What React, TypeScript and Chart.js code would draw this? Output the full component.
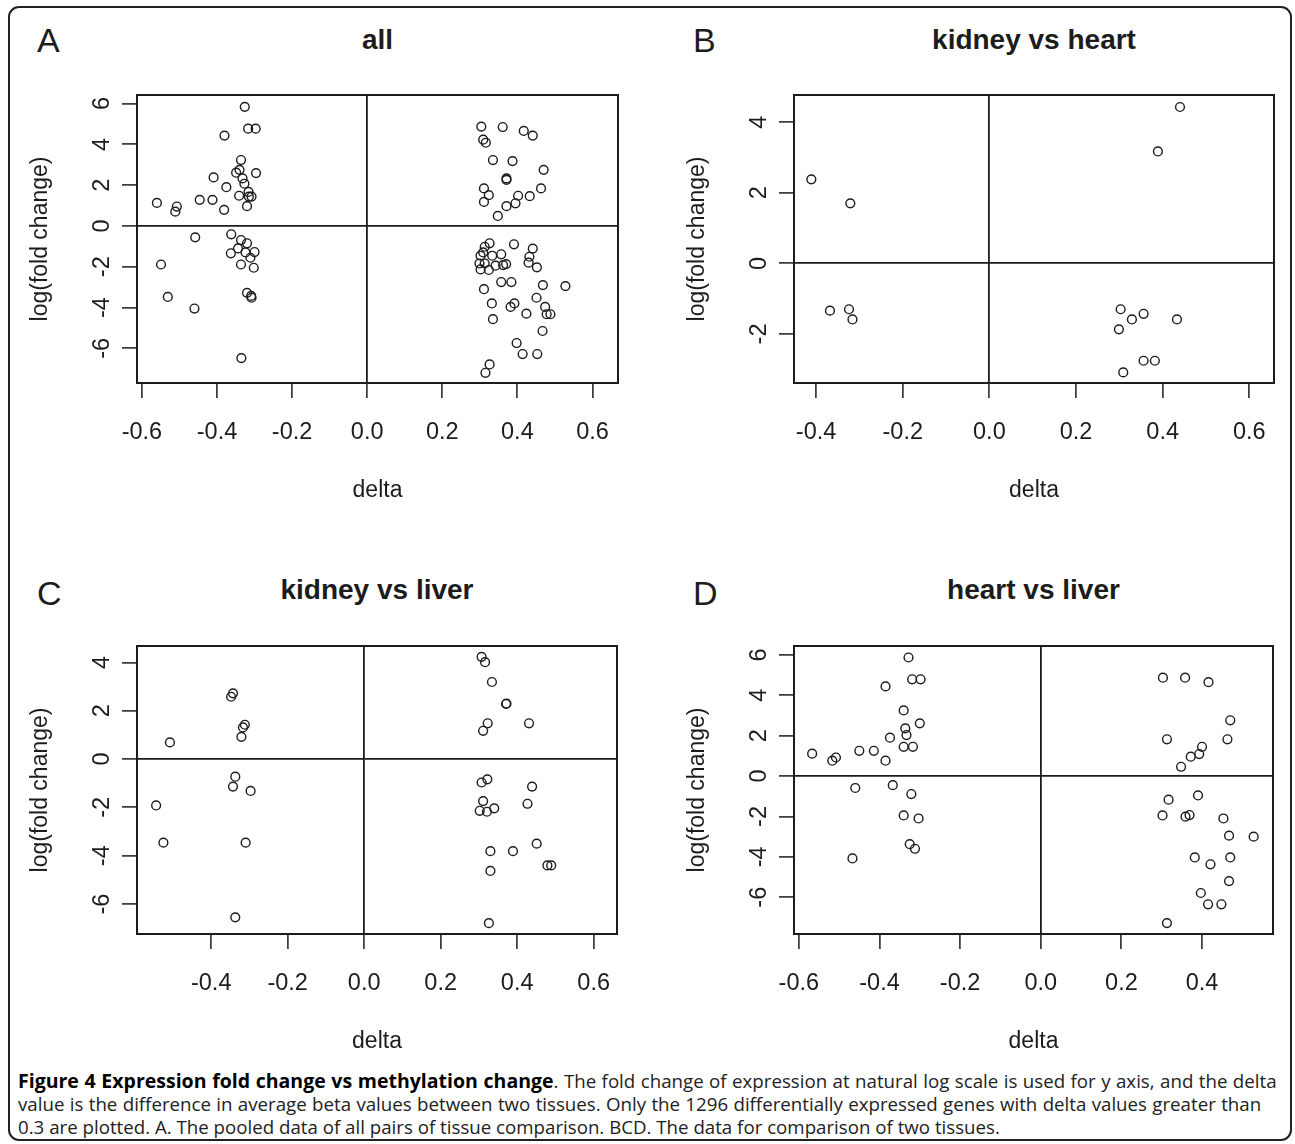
import React, { useEffect, useRef } from "react";
import { Chart, registerables } from "chart.js";

Chart.register(...registerables);

// ---------- DATA ----------
// Panel A: all (pooled)
const A_DELTA = [
  -0.326, -0.317, -0.297, -0.38, -0.336, -0.349, -0.34, -0.296, -0.332, -0.409,
  -0.327, -0.375, -0.316, -0.341, -0.315, -0.308, -0.32, -0.56, -0.507, -0.511,
  -0.446, -0.412, -0.381, -0.458, -0.362, -0.336, -0.32, -0.344, -0.324, -0.3,
  -0.363, -0.311, -0.336, -0.302, -0.549, -0.531, -0.46, -0.32, -0.309, -0.308,
  -0.335,
  0.304, 0.361, 0.417, 0.441, 0.309, 0.316, 0.335, 0.387, 0.47, 0.371,
  0.371, 0.311, 0.324, 0.311, 0.463, 0.402, 0.433, 0.395, 0.371, 0.348,
  0.326, 0.313, 0.391, 0.441, 0.309, 0.302, 0.333, 0.357, 0.432, 0.299,
  0.313, 0.302, 0.324, 0.342, 0.362, 0.37, 0.43, 0.452, 0.357, 0.384,
  0.311, 0.468, 0.528, 0.332, 0.382, 0.392, 0.451, 0.424, 0.474, 0.478,
  0.488, 0.335, 0.467, 0.398, 0.414, 0.453, 0.326, 0.315,
];
const A_LOGFC = [
  5.84, 4.77, 4.77, 4.43, 3.23, 2.61, 2.75, 2.59, 2.33, 2.38,
  2.07, 1.9, 1.67, 1.48, 1.44, 1.44, 0.97, 1.13, 0.95, 0.7,
  1.28, 1.28, 0.79, -0.56, -0.41, -0.69, -0.85, -1.1, -1.3, -1.28,
  -1.34, -1.56, -1.89, -2.05, -1.89, -3.48, -4.05, -3.28, -3.43, -3.52,
  -6.48,
  4.87, 4.85, 4.66, 4.43, 4.23, 4.08, 3.23, 3.18, 2.75, 2.33,
  2.26, 1.84, 1.51, 1.18, 1.84, 1.48, 1.46, 1.11, 0.97, 0.49,
  -0.85, -1.02, -0.9, -1.11, -1.3, -1.46, -1.46, -1.39, -1.51, -1.84,
  -1.84, -2.13, -2.16, -1.95, -1.92, -1.87, -1.8, -2.03, -2.75, -2.75,
  -3.1, -2.9, -2.95, -3.8, -3.97, -3.8, -3.52, -4.3, -3.97, -4.33,
  -4.33, -4.57, -5.15, -5.74, -6.28, -6.28, -6.79, -7.2,
];

// Panel B: kidney vs heart
const B_DELTA = [-0.411, -0.321, -0.368, -0.324, -0.316, 0.44, 0.389, 0.303, 0.329, 0.356, 0.433, 0.299, 0.356, 0.382, 0.309];
const B_LOGFC = [2.38, 1.7, -1.34, -1.3, -1.59, 4.43, 3.17, -1.3, -1.59, -1.43, -1.59, -1.87, -2.76, -2.76, -3.09];

// Panel C: kidney vs liver
const C_DELTA = [
  -0.343, -0.348, -0.312, -0.317, -0.321, -0.508, -0.337, -0.343, -0.297, -0.544, -0.525, -0.31, -0.337,
  0.307, 0.316, 0.334, 0.371, 0.372, 0.323, 0.311, 0.431, 0.322, 0.307, 0.439, 0.311, 0.427, 0.302,
  0.321, 0.34, 0.33, 0.389, 0.451, 0.479, 0.489, 0.33, 0.326,
];
const C_LOGFC = [
  2.72, 2.58, 1.42, 1.31, 0.92, 0.69, -0.73, -1.14, -1.32, -1.92, -3.46, -3.46, -6.55,
  4.23, 4.01, 3.19, 2.28, 2.3, 1.48, 1.17, 1.48, -0.84, -0.97, -1.14, -1.74, -1.85, -2.14,
  -2.18, -2.04, -3.81, -3.81, -3.5, -4.4, -4.4, -4.63, -6.79,
];

// Panel D: heart vs liver
const D_DELTA = [
  -0.328, -0.319, -0.298, -0.385, -0.34, -0.3, -0.336, -0.333, -0.374, -0.34, -0.317, -0.567, -0.508,
  -0.517, -0.45, -0.414, -0.385, -0.46, -0.367, -0.321, -0.34, -0.303, -0.325, -0.312, -0.467,
  0.303, 0.358, 0.416, 0.47, 0.313, 0.463, 0.4, 0.393, 0.372, 0.348, 0.317, 0.39, 0.302,
  0.359, 0.369, 0.453, 0.467, 0.528, 0.382, 0.421, 0.47, 0.467, 0.397, 0.415, 0.448, 0.313,
];
const D_LOGFC = [
  5.87, 4.79, 4.79, 4.44, 3.25, 2.61, 2.36, 2.03, 1.9, 1.45, 1.45, 1.11, 0.92,
  0.76, 1.25, 1.25, 0.76, -0.59, -0.45, -0.89, -1.95, -2.1, -3.37, -3.6, -4.08,
  4.87, 4.87, 4.65, 2.76, 1.82, 1.82, 1.45, 1.09, 0.96, 0.46, -1.17, -0.96, -1.95,
  -2.01, -1.93, -2.1, -2.95, -3.0, -4.03, -4.37, -4.03, -5.2, -5.79, -6.35, -6.35, -7.28,
];

// Axis ranges and tick labels
const A_X_RANGE = [-0.613, 0.668];
const A_Y_RANGE = [-7.7, 6.42];
const B_X_RANGE = [-0.451, 0.657];
const B_Y_RANGE = [-3.39, 4.77];
const C_X_RANGE = [-0.594, 0.661];
const C_Y_RANGE = [-7.24, 4.68];
const D_X_RANGE = [-0.612, 0.576];
const D_Y_RANGE = [-7.82, 6.44];

const A_X_TICKS = [-0.6, -0.4, -0.2, 0, 0.2, 0.4, 0.6];
const B_X_TICKS = [-0.4, -0.2, 0, 0.2, 0.4, 0.6];
const C_X_TICKS = [-0.4, -0.2, 0, 0.2, 0.4, 0.6];
const D_X_TICKS = [-0.6, -0.4, -0.2, 0, 0.2, 0.4];
const A_Y_TICKS = [-6, -4, -2, 0, 2, 4, 6];
const B_Y_TICKS = [-2, 0, 2, 4];
const C_Y_TICKS = [-6, -4, -2, 0, 2, 4];
const D_Y_TICKS = [-6, -4, -2, 0, 2, 4, 6];

const PANEL_LETTERS = ["A", "B", "C", "D"];
const PANEL_TITLES = ["all", "kidney vs heart", "kidney vs liver", "heart vs liver"];
const X_TITLE = "delta";
const Y_TITLE = "log(fold change)";

// ---------- LAYOUT / STYLE ----------
const INK = "#1c1c1c";
const AXIS_FONT = "'Liberation Sans', Arial, Helvetica, sans-serif";
const Y_AXIS_W = 117;
const X_AXIS_H = 125;
const PAD_TOP = 15;
const PAD_RIGHT = 15;

type Spec = {
  delta: number[];
  logfc: number[];
  xRange: number[];
  yRange: number[];
  xTicks: number[];
  yTicks: number[];
  plot: { left: number; top: number; right: number; bottom: number };
};

const SPECS: Spec[] = [
  { delta: A_DELTA, logfc: A_LOGFC, xRange: A_X_RANGE, yRange: A_Y_RANGE, xTicks: A_X_TICKS, yTicks: A_Y_TICKS, plot: { left: 137, top: 95, right: 618, bottom: 383 } },
  { delta: B_DELTA, logfc: B_LOGFC, xRange: B_X_RANGE, yRange: B_Y_RANGE, xTicks: B_X_TICKS, yTicks: B_Y_TICKS, plot: { left: 794, top: 95, right: 1274, bottom: 383 } },
  { delta: C_DELTA, logfc: C_LOGFC, xRange: C_X_RANGE, yRange: C_Y_RANGE, xTicks: C_X_TICKS, yTicks: C_Y_TICKS, plot: { left: 137, top: 646, right: 617, bottom: 934 } },
  { delta: D_DELTA, logfc: D_LOGFC, xRange: D_X_RANGE, yRange: D_Y_RANGE, xTicks: D_X_TICKS, yTicks: D_Y_TICKS, plot: { left: 794, top: 646, right: 1273, bottom: 934 } },
];

const boxPlugin = {
  id: "plotBox",
  afterDraw(chart: any) {
    const { ctx, chartArea: a } = chart;
    ctx.save();
    ctx.strokeStyle = INK;
    ctx.lineWidth = 2;
    ctx.strokeRect(a.left, a.top, a.right - a.left, a.bottom - a.top);
    ctx.restore();
  },
};

const zeroLineColor = (c: any) => (c.tick && c.tick.value === 0 ? INK : "rgba(0,0,0,0)");

function Panel({ spec }: { spec: Spec }) {
  const ref = useRef<HTMLCanvasElement | null>(null);
  const left = spec.plot.left - Y_AXIS_W;
  const top = spec.plot.top - PAD_TOP;
  const width = spec.plot.right + PAD_RIGHT - left;
  const height = spec.plot.bottom + X_AXIS_H - top;

  useEffect(() => {
    if (!ref.current) return;
    const points = spec.delta.map((d, i) => ({ x: d, y: spec.logfc[i] }));
    const grid = {
      color: zeroLineColor,
      lineWidth: 1.8,
      tickColor: INK,
      tickWidth: 1.5,
      tickLength: 15,
      drawOnChartArea: true,
      drawTicks: true,
    };
    const chart = new Chart(ref.current, {
      type: "scatter",
      data: {
        datasets: [
          {
            data: points,
            pointStyle: "circle",
            pointRadius: 4.4,
            pointBorderWidth: 1.4,
            borderColor: INK,
            backgroundColor: "rgba(0,0,0,0)",
            pointBackgroundColor: "rgba(0,0,0,0)",
            pointBorderColor: INK,
          },
        ],
      },
      options: {
        animation: false,
        responsive: false,
        devicePixelRatio: 1,
        events: [],
        layout: { padding: { left: 0, top: PAD_TOP, right: PAD_RIGHT, bottom: 0 } },
        plugins: { legend: { display: false }, tooltip: { enabled: false }, title: { display: false } },
        scales: {
          x: {
            type: "linear",
            min: spec.xRange[0],
            max: spec.xRange[1],
            afterBuildTicks: (s: any) => {
              s.ticks = spec.xTicks.map((v) => ({ value: v }));
            },
            afterFit: (s: any) => {
              s.height = X_AXIS_H;
              s.paddingLeft = 0;
              s.paddingRight = 0;
            },
            grid,
            border: { display: false },
            ticks: {
              color: INK,
              font: { family: AXIS_FONT, size: 23.5 },
              padding: 20,
              autoSkip: false,
              minRotation: 0,
              maxRotation: 0,
              callback: (v: any) => Number(v).toFixed(1),
            },
            title: {
              display: true,
              text: X_TITLE,
              color: INK,
              font: { family: AXIS_FONT, size: 23 },
              padding: { top: 0, bottom: 4 },
            },
          },
          y: {
            type: "linear",
            min: spec.yRange[0],
            max: spec.yRange[1],
            afterBuildTicks: (s: any) => {
              s.ticks = spec.yTicks.map((v) => ({ value: v }));
            },
            afterFit: (s: any) => {
              s.width = Y_AXIS_W;
              s.paddingTop = 0;
              s.paddingBottom = 0;
            },
            grid,
            border: { display: false },
            ticks: {
              color: INK,
              font: { family: AXIS_FONT, size: 23.5 },
              padding: 9,
              crossAlign: "center",
              autoSkip: false,
              minRotation: 90,
              maxRotation: 90,
              callback: (v: any) => String(Math.round(Number(v))),
            },
            title: {
              display: true,
              text: Y_TITLE,
              color: INK,
              font: { family: AXIS_FONT, size: 23 },
              padding: { top: 7, bottom: 0 },
            },
          },
        },
      },
      plugins: [boxPlugin],
    } as any);
    return () => chart.destroy();
  }, []);

  return (
    <canvas
      ref={ref}
      width={width}
      height={height}
      style={{ position: "absolute", left, top, width, height }}
    />
  );
}

export default function App() {
  const letterPos = [
    { left: 37, top: 23 },
    { left: 693, top: 23 },
    { left: 37, top: 576 },
    { left: 693, top: 576 },
  ];
  const titleCenterY = [40, 40, 590, 590];
  return (
    <div
      style={{
        position: "absolute",
        left: 0,
        top: 0,
        width: 1295,
        height: 1144,
        background: "#fff",
        overflow: "hidden",
      }}
    >
      <div
        style={{
          position: "absolute",
          left: 8,
          top: 6,
          width: 1284,
          height: 1135,
          border: "2px solid #222",
          borderRadius: 11,
          boxSizing: "border-box",
        }}
      />
      {SPECS.map((s, i) => (
        <Panel key={i} spec={s} />
      ))}
      {SPECS.map((s, i) => (
        <div
          key={"l" + i}
          style={{
            position: "absolute",
            left: letterPos[i].left,
            top: letterPos[i].top,
            fontFamily: AXIS_FONT,
            fontSize: 34,
            lineHeight: "34px",
            color: INK,
          }}
        >
          {PANEL_LETTERS[i]}
        </div>
      ))}
      {SPECS.map((s, i) => (
        <div
          key={"t" + i}
          style={{
            position: "absolute",
            left: (s.plot.left + s.plot.right) / 2 - 250,
            width: 500,
            top: titleCenterY[i] - 14,
            textAlign: "center",
            fontFamily: AXIS_FONT,
            fontWeight: "bold",
            fontSize: 28,
            lineHeight: "28px",
            color: INK,
          }}
        >
          {PANEL_TITLES[i]}
        </div>
      ))}
      <div
        style={{
          position: "absolute",
          left: 18,
          top: 1069,
          fontFamily: "'Open Sans', 'Noto Sans', sans-serif",
          fontSize: 18.7,
          lineHeight: "23px",
          color: "#222",
          whiteSpace: "nowrap",
        }}
      >
        <div style={{ wordSpacing: 0.6 }}>
          <b style={{ color: "#000", fontSize: 19.5 }}>Figure 4 Expression fold change vs methylation change</b>. The
          fold change of expression at natural log scale is used for y axis, and the delta
        </div>
        <div style={{ wordSpacing: 0.5 }}>
          value is the difference in average beta values between two tissues. Only the 1296 differentially expressed
          genes with delta values greater than
        </div>
        <div>0.3 are plotted. A. The pooled data of all pairs of tissue comparison. BCD. The data for comparison of two tissues.</div>
      </div>
    </div>
  );
}
